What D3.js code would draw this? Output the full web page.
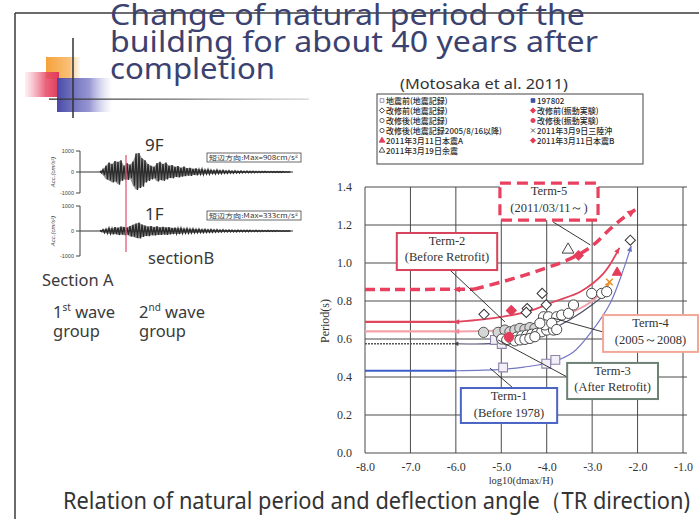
<!DOCTYPE html>
<html><head><meta charset="utf-8">
<script src="https://cdn.jsdelivr.net/npm/d3@7"></script>
<style>body{margin:0;background:#fff}svg{display:block}</style>
</head><body><svg id="c" width="699" height="519"></svg>
<script>
// ---------- chart data ----------
const xTicks = [-8, -7, -6, -5, -4, -3, -2, -1];
const yTicks = [0, 0.2, 0.4, 0.6, 0.8, 1.0, 1.2, 1.4];

// [log10(dmax/H), period (s)]
const preQuakeRec   = [[-4.96,0.45],[-4.01,0.47],[-3.81,0.49],[-5.14,0.595],[-4.99,0.574]];
const beforeRetroRec = [[-5.38,0.73],[-4.43,0.76],[-4.45,0.74],[-4.10,0.84],[-4.01,0.78],[-2.16,1.12]];
const afterRetroRec = [[-5.39,0.635],[-5.07,0.635],[-4.92,0.647],[-4.81,0.638],[-4.70,0.647],[-4.59,0.656],[-4.48,0.651],[-4.37,0.66],[-4.26,0.656]];
const afterRetroRec2005 = [[-4.99,0.60],[-4.88,0.595],[-4.77,0.60],[-4.66,0.61],[-4.55,0.616],[-4.44,0.62],[-4.33,0.625],[-4.22,0.63],[-4.11,0.638],[-4.0,0.647],[-4.70,0.59],[-4.59,0.595],[-4.48,0.598],[-4.37,0.603],[-4.26,0.612],[-4.07,0.717],[-3.96,0.717],[-3.85,0.647],[-3.78,0.717],[-3.67,0.726],[-3.52,0.735],[-3.41,0.779],[-3.01,0.84],[-2.79,0.84],[-2.68,0.849],[-4.04,0.674],[-3.89,0.683],[-4.15,0.683],[-3.78,0.65]];
const rec197802 = [];
const beforeRetroShake = [[-4.78,0.75]];
const afterRetroShake = [[-4.83,0.61]];
const sanriku0309 = [[-2.62,0.90]];
const mainShockA = [[-2.45,0.95]];
const mainShockB = [[-3.30,1.04]];
const aftershock0319 = [[-3.53,1.07]];

// fitted trends per term
const term1Flat = [[-8,0.433],[-6,0.433]];
const term1Fit = [[-6,0.433],[-5,0.44],[-4.5,0.452],[-3.86,0.48],[-3.42,0.53],[-2.98,0.65],[-2.6,0.79],[-2.32,0.96],[-2.14,1.09]];
const term2Flat = [[-8,0.69],[-6,0.69]];
const term2Fit = [[-6,0.69],[-5.4,0.703],[-4.9,0.72],[-4.4,0.745],[-3.8,0.8],[-3.25,0.85],[-2.75,0.945],[-2.4,1.08]];
const term3Flat = [[-8,0.575],[-6,0.575]];
const term3Fit = [[-6,0.575],[-5.0,0.578],[-4.5,0.60],[-4.0,0.64],[-3.5,0.70],[-3.0,0.78],[-2.6,0.86]];
const term4Flat = [[-8,0.64],[-6,0.64]];
const term4Fit = [[-6,0.64],[-5.2,0.643],[-4.9,0.648],[-4.15,0.675],[-3.4,0.745],[-3.0,0.80],[-2.6,0.90]];
const term5Flat = [[-8,0.86],[-5.6,0.862]];
const term5Fit = [[-5.6,0.862],[-5.0,0.90],[-4.5,0.935],[-4.0,0.975],[-3.5,1.02],[-3.0,1.09],[-2.6,1.18],[-2.3,1.24],[-2.05,1.28]];

// acceleration peaks (cm/s^2), positive and negative, along the record
const acc9FUp = [50,120,300,450,380,520,480,560,300,420,350,500,880,908,650,560,380,300,250,420,480,380,450,300,330,250,280,200,260,180,200,150,170,120,140,100,120,90,80,100,70,80,60,70,50,60,45,50,40,45,35,40,30,35,30,30,25,25,20,25,20,20,15,15];
const acc9FDn = [40,150,350,400,500,450,600,420,350,380,300,650,850,760,700,500,420,350,300,450,380,420,350,280,300,230,260,220,200,170,180,140,160,110,130,95,110,80,90,75,80,65,70,55,60,50,50,45,40,40,35,35,30,30,25,25,25,20,20,20,20,15,15,15];
const acc1FUp = [30,60,80,120,100,150,130,180,160,140,200,250,300,333,260,220,180,200,160,190,150,170,140,150,120,130,110,120,90,100,80,90,70,80,60,70,55,60,50,55,45,50,40,45,40,35,40,30,35,30,30,25,30,25,25,20,25,20,20,20,15,15,15,15];
const acc1FDn = [25,70,90,110,130,120,160,140,170,150,220,230,280,300,240,200,210,170,180,160,160,140,150,130,120,110,120,100,90,90,85,75,75,65,65,60,55,55,50,45,45,40,40,40,35,35,30,30,30,30,25,25,25,25,20,20,20,20,20,15,15,15,15,15];
const accTicks = [1000, 0, -1000];

const titleLines = ["Change of natural period of the", "building for about 40 years after", "completion"];

// ---------- drawing ----------
const svg = d3.select('#c');
const defs = svg.append('defs');
function grad(id, stops, x2, y2){
  const g = defs.append('linearGradient').attr('id', id).attr('x1',0).attr('y1',0).attr('x2',x2).attr('y2',y2);
  stops.forEach(s => g.append('stop').attr('offset', s[0]).attr('stop-color', s[1]).attr('stop-opacity', s[2]));
}
grad('gOr', [[0,'#f6a23a',1],[0.7,'#f8b968',0.9],[1,'#fbd8a8',0.2]], 1, 0);
grad('gRd', [[0,'#f07a90',0.1],[0.6,'#e84a68',0.85],[1,'#e03a5a',1]], 1, 0);
grad('gBl', [[0,'#4a4aa8',1],[0.6,'#6a6ac0',0.7],[1,'#b0b0e0',0.05]], 1, 0);
grad('gHr', [[0,'#333',1],[0.5,'#666',0.9],[1,'#aaa',0.5]], 1, 0);

// slide border
svg.append('line').attr('x1',15).attr('y1',13).attr('x2',699).attr('y2',13).attr('stroke','#3a3a3a').attr('stroke-width',1.5);
svg.append('line').attr('x1',15).attr('y1',13).attr('x2',15).attr('y2',519).attr('stroke','#3a3a3a').attr('stroke-width',1.5);

// title ornament
svg.append('rect').attr('x',46).attr('y',57).attr('width',34).attr('height',22).attr('fill','url(#gOr)');
svg.append('rect').attr('x',25).attr('y',72).attr('width',34).attr('height',25).attr('fill','url(#gRd)');
svg.append('rect').attr('x',57).attr('y',78).attr('width',54).attr('height',34).attr('fill','url(#gBl)');
svg.append('line').attr('x1',73).attr('y1',38).attr('x2',73).attr('y2',118).attr('stroke','#333').attr('stroke-width',1.5);
svg.append('rect').attr('x',49).attr('y',98.5).attr('width',260).attr('height',1.3).attr('fill','url(#gHr)');

// title
const tl = [[25,475],[52,488],[79,165]];
titleLines.forEach((t,i) => {
  svg.append('text').attr('x',110).attr('y',tl[i][0]).attr('font-family','Noto Sans, DejaVu Sans, sans-serif')
    .attr('font-size',28.5).attr('fill','#3b4270').attr('textLength',tl[i][1]).attr('lengthAdjust','spacingAndGlyphs').text(t);
});
svg.append('text').attr('x',400).attr('y',89).attr('font-family','Noto Sans, sans-serif').attr('font-size',15)
  .attr('fill','#333').attr('textLength',168).attr('lengthAdjust','spacingAndGlyphs').text('(Motosaka et al. 2011)');

// ---------- scatter plot ----------
const x = d3.scaleLinear().domain([-8, -1]).range([365, 683]);
const y = d3.scaleLinear().domain([0, 1.4]).range([453, 187]);
const plot = svg.append('g');

plot.selectAll('.vg').data(xTicks).join('line')
  .attr('x1', d => x(d)).attr('x2', d => x(d)).attr('y1', y(0)).attr('y2', y(1.4))
  .attr('stroke', '#4a4a4a').attr('stroke-width', 1);
plot.selectAll('.hg').data(yTicks).join('line')
  .attr('x1', x(-8)).attr('x2', x(-1) + 4).attr('y1', d => y(d)).attr('y2', d => y(d))
  .attr('stroke', '#4a4a4a').attr('stroke-width', 1);

const fmt = d => d.toFixed(1);
const yAxis = plot.append('g').attr('transform', `translate(${x(-8)},0)`)
  .call(d3.axisLeft(y).tickValues(yTicks).tickFormat(fmt).tickSize(0).tickPadding(13));
const xAxis = plot.append('g').attr('transform', `translate(0,${y(0)})`)
  .call(d3.axisBottom(x).tickValues(xTicks).tickFormat(fmt).tickSize(0).tickPadding(9));
[xAxis, yAxis].forEach(a => {
  a.select('.domain').remove();
  a.selectAll('text').attr('font-family', 'Liberation Serif, serif').attr('font-size', 12).attr('fill', '#333');
});
svg.append('text').attr('transform','translate(329,321) rotate(-90)').attr('text-anchor','middle')
  .attr('font-family','Liberation Serif, serif').attr('font-size',12).attr('fill','#333').text('Period(s)');
svg.append('text').attr('x',521).attr('y',484).attr('text-anchor','middle')
  .attr('font-family','Liberation Serif, serif').attr('font-size',10.5).attr('fill','#333').text('log10(dmax/H)');

// trend lines
const lineStraight = d3.line().x(d => x(d[0])).y(d => y(d[1]));
const lineCurve = d3.line().x(d => x(d[0])).y(d => y(d[1])).curve(d3.curveCatmullRom.alpha(0.5));
function trend(data, gen, color, w, dash){
  plot.append('path').attr('d', gen(data)).attr('fill','none').attr('stroke',color)
    .attr('stroke-width',w).attr('stroke-dasharray', dash || null);
}
function arrowHead(p, q, color, s){
  // arrow at p pointing away from q
  const ax = x(p[0]), ay = y(p[1]), bx = x(q[0]), by = y(q[1]);
  const ang = Math.atan2(ay - by, ax - bx) * 180 / Math.PI;
  plot.append('path').attr('d', `M0,0L${-s*1.6},${-s*0.75}L${-s*1.6},${s*0.75}Z`)
    .attr('transform', `translate(${ax},${ay}) rotate(${ang})`).attr('fill', color);
}
function leftArrow(pt, color, s){
  plot.append('path').attr('d', `M0,0L${s*1.6},${-s*0.75}L${s*1.6},${s*0.75}Z`)
    .attr('transform', `translate(${x(-6.05)},${y(pt[1])})`).attr('fill', color);
}

// Term-1
trend(term1Flat, lineStraight, '#3c5cc8', 2.2);
trend(term1Fit, lineCurve, '#7278c4', 1.2);
arrowHead(term1Fit[term1Fit.length-1], term1Fit[term1Fit.length-2], '#6670c0', 3.5);
// Term-3
trend(term3Flat, lineStraight, '#555', 1.6, '2,1');
trend(term3Fit, lineCurve, '#4a4a6a', 1.2);
leftArrow(term3Flat[0], '#444', 3);
arrowHead(term3Fit[term3Fit.length-1], term3Fit[term3Fit.length-2], '#3a3a7a', 3);
// Term-4
trend(term4Flat, lineStraight, '#f3a2aa', 2.2);
trend(term4Fit, lineCurve, '#f3a2aa', 2);
leftArrow(term4Flat[0], '#f08a98', 3.5);
arrowHead(term4Fit[term4Fit.length-1], term4Fit[term4Fit.length-2], '#f0a040', 3.5);
// Term-2
trend(term2Flat, lineStraight, '#e0455e', 2.2);
trend(term2Fit, lineCurve, '#e0455e', 1.8);
leftArrow(term2Flat[0], '#e0455e', 3.5);
arrowHead(term2Fit[term2Fit.length-1], term2Fit[term2Fit.length-2], '#e0455e', 3.5);
// Term-5
trend(term5Flat, lineStraight, '#e8405e', 3.5, '10,5');
trend(term5Fit, lineCurve, '#e8405e', 3.5, '10,6');
leftArrow(term5Flat[0], '#e8405e', 4);
arrowHead(term5Fit[term5Fit.length-1], term5Fit[term5Fit.length-2], '#e8405e', 5);

// markers
const shapes = {
  square: d3.symbol().type(d3.symbolSquare),
  diamond: d3.symbol().type(d3.symbolSquare),
  circle: d3.symbol().type(d3.symbolCircle),
  triangle: d3.symbol().type(d3.symbolTriangle),
  cross: d3.symbol().type(d3.symbolX)
};
function drawSym(g, kind, cx, cy, size, fill, stroke, sw){
  const rot = kind === 'diamond' ? 45 : 0;
  g.append('path').attr('d', shapes[kind].size(size)())
    .attr('transform', `translate(${cx},${cy}) rotate(${rot})`)
    .attr('fill', fill).attr('stroke', stroke).attr('stroke-width', sw);
}
const series = [
  {data: preQuakeRec, kind:'square', size:78, fill:'#f2f0f6', stroke:'#8c82aa', sw:1.1, label:'□地震前(地震記録)', col:0},
  {data: beforeRetroRec, kind:'diamond', size:52, fill:'#fff', stroke:'#333', sw:1, label:'◇改修前(地震記録)', col:0},
  {data: afterRetroRec, kind:'circle', size:82, fill:'#d6d6d6', stroke:'#555', sw:1, label:'○改修後(地震記録)', col:0},
  {data: afterRetroRec2005, kind:'circle', size:82, fill:'#fff', stroke:'#444', sw:1, label:'○改修後(地震記録2005/8/16以降)', col:0},
  {data: mainShockA, kind:'triangle', size:40, fill:'#e43c5a', stroke:'#e43c5a', sw:1, label:'▲2011年3月11日本震A', col:0},
  {data: aftershock0319, kind:'triangle', size:60, fill:'#fff', stroke:'#444', sw:1, label:'△2011年3月19日余震', col:0},
  {data: rec197802, kind:'square', size:40, fill:'#3a50a0', stroke:'#3a50a0', sw:1, label:'■197802', col:1},
  {data: beforeRetroShake, kind:'diamond', size:50, fill:'#e43c5a', stroke:'#e43c5a', sw:1, label:'◆改修前(振動実験)', col:1},
  {data: afterRetroShake, kind:'circle', size:70, fill:'#e43c5a', stroke:'#e43c5a', sw:1, label:'●改修後(振動実験)', col:1},
  {data: sanriku0309, kind:'cross', size:30, fill:'none', stroke:'#e8902a', sw:1.6, label:'×2011年3月9日三陸沖', col:1},
  {data: mainShockB, kind:'diamond', size:45, fill:'#e43c5a', stroke:'#e43c5a', sw:1, label:'■2011年3月11日本震B', col:1}
];
const marks = plot.append('g');
series.forEach(s => s.data.forEach(d => drawSym(marks, s.kind, x(d[0]), y(d[1]), s.size, s.fill, s.stroke, s.sw)));

// term call-outs (box corners and leader ends in data units)
const callouts = [
  {lines:['Term-5','(2011/03/11～)'], box:[-5.03,1.42,-2.87,1.226], lead:[[-3.86,1.216],[-3.04,1.095]], color:'#e8405e', w:3.2, dash:'11,6'},
  {lines:['Term-2','(Before Retrofit)'], box:[-7.30,1.158,-5.09,0.963], lead:[[-6.13,0.963],[-4.92,0.69]], color:'#d8425c', w:2},
  {lines:['Term-4','(2005～2008)'], box:[-2.76,0.726,-0.67,0.532], lead:[[-2.76,0.637],[-3.86,0.71]], color:'#f2a898', w:2},
  {lines:['Term-3','(After Retrofit)'], box:[-3.55,0.474,-1.55,0.284], lead:[[-3.55,0.40],[-5.07,0.595]], color:'#6c8274', w:2},
  {lines:['Term-1','(Before 1978)'], box:[-5.89,0.342,-3.77,0.158], lead:[[-4.74,0.342],[-5.25,0.447]], color:'#4a64c4', w:2}
];
const co = svg.append('g');
callouts.forEach(c => {
  co.append('line').attr('x1', x(c.lead[0][0])).attr('y1', y(c.lead[0][1])).attr('x2', x(c.lead[1][0])).attr('y2', y(c.lead[1][1]))
    .attr('stroke', '#222').attr('stroke-width', 0.9);
  const bx = x(c.box[0]), by = y(c.box[1]), bw = x(c.box[2]) - bx, bh = y(c.box[3]) - by;
  co.append('rect').attr('x', bx).attr('y', by).attr('width', bw).attr('height', bh)
    .attr('fill', '#fff').attr('stroke', c.color).attr('stroke-width', c.w).attr('stroke-dasharray', c.dash || null);
  c.lines.forEach((t, i) => co.append('text').attr('x', bx + bw / 2).attr('y', by + 12 + i * 16.5)
    .attr('text-anchor', 'middle').attr('font-family', 'Liberation Serif, serif').attr('font-size', 12.5).attr('fill', '#333').text(t));
});

// legend
const lg = svg.append('g');
lg.append('rect').attr('x',377).attr('y',94).attr('width',266).attr('height',70).attr('fill','#fff').attr('stroke','#444').attr('stroke-width',1);
const rowsPerCol = [0, 0];
series.forEach(s => {
  const r = rowsPerCol[s.col]++;
  const lx = s.col === 0 ? 382 : 533, ly = 100.5 + r * 10;
  drawSym(lg, s.kind, lx, ly, s.kind === 'cross' ? 12 : 14, s.fill === '#fff' || s.fill === '#f2f0f6' || s.fill === '#d6d6d6' ? '#fff' : s.fill,
    s.kind === 'cross' ? '#444' : s.stroke, 0.9);
  lg.append('text').attr('x', lx + 4).attr('y', ly + 3).attr('font-family', 'Noto Sans CJK JP, sans-serif')
    .attr('font-size', 8).attr('font-weight', 500).attr('fill', '#2a2a2a').text(s.label.slice(1));
});

// ---------- acceleration records ----------
const wave = svg.append('g');
function record(up, dn, yTop, yBot, label, labelY, maxText, boxY){
  const ys = d3.scaleLinear().domain([-1000, 1000]).range([yBot, yTop]);
  const n = Math.min(up.length, dn.length);
  const t = d3.scaleLinear().domain([0, n - 1]).range([100, 289]);
  const half = (t(1) - t(0)) / 2;
  wave.append('line').attr('x1', 80).attr('x2', 293).attr('y1', ys(0)).attr('y2', ys(0)).attr('stroke', '#333').attr('stroke-width', 1);
  const area = d3.area().x((d, i) => t(i)).y0((d, i) => ys(-dn[i])).y1((d, i) => ys(up[i])).curve(d3.curveLinear);
  wave.append('path').attr('d', area(up.slice(0, n))).attr('fill', '#3a3a3a').attr('opacity', 0.55);
  const pts = [];
  for (let i = 0; i < n; i++) { pts.push([t(i), ys(up[i])]); pts.push([t(i) + half, ys(-dn[i])]); }
  wave.append('path').attr('d', d3.line()(pts)).attr('fill', 'none').attr('stroke', '#2a2a2a').attr('stroke-width', 1.3);
  // bracket axis
  wave.append('path').attr('d', `M76,${ys(1000)}H80V${ys(-1000)}H76M76,${ys(0)}H80`).attr('fill', 'none').attr('stroke', '#444').attr('stroke-width', 1);
  accTicks.forEach(v => wave.append('text').attr('x', 74).attr('y', ys(v) + 2).attr('text-anchor', 'end')
    .attr('font-family', 'Liberation Sans, sans-serif').attr('font-size', 5.5).attr('fill', '#444').text(v));
  wave.append('text').attr('transform', `translate(55,${ys(0)}) rotate(-90)`).attr('text-anchor', 'middle')
    .attr('font-family', 'Liberation Sans, sans-serif').attr('font-style', 'italic').attr('font-size', 6).attr('fill', '#444')
    .text('Acc.(cm/s²)');
  wave.append('text').attr('x', 145).attr('y', labelY).attr('font-family', 'Noto Sans, sans-serif').attr('font-size', 17).attr('fill', '#333').text(label);
  wave.append('rect').attr('x', 207).attr('y', boxY).attr('width', 94).attr('height', 9).attr('fill', '#fff').attr('stroke', '#444').attr('stroke-width', 0.8);
  wave.append('text').attr('x', 209).attr('y', boxY + 6.7).attr('font-family', 'Noto Sans CJK JP, sans-serif').attr('font-size', 6).attr('fill', '#333')
    .attr('textLength', 89).attr('lengthAdjust', 'spacingAndGlyphs').text(maxText);
}
record(acc9FUp, acc9FDn, 151, 193, '9F', 151, '短辺方向:Max=908cm/s²', 153);
record(acc1FUp, acc1FDn, 206, 256, '1F', 220, '短辺方向:Max=333cm/s²', 211);
wave.append('line').attr('x1', 126).attr('x2', 126).attr('y1', 155).attr('y2', 252).attr('stroke', '#e45a78').attr('stroke-width', 1.3);

const sideFont = 'Noto Sans, DejaVu Sans, sans-serif';
function sideText(tx, ty, s, size){ return svg.append('text').attr('x', tx).attr('y', ty).attr('font-family', sideFont).attr('font-size', size || 16.5).attr('fill', '#3a3a3a').text(s); }
sideText(148, 264, 'sectionB');
sideText(42, 286, 'Section A');
const w1 = sideText(53, 318, '1'); w1.append('tspan').attr('font-size', 10).attr('dy', -7).text('st'); w1.append('tspan').attr('dy', 7).text(' wave');
sideText(53, 337, 'group');
const w2 = sideText(139, 318, '2'); w2.append('tspan').attr('font-size', 10).attr('dy', -7).text('nd'); w2.append('tspan').attr('dy', 7).text(' wave');
sideText(139, 337, 'group');

// caption
svg.append('text').attr('x', 63).attr('y', 509).attr('font-family', sideFont).attr('font-size', 24).attr('fill', '#333')
  .attr('textLength', 627).attr('lengthAdjust', 'spacingAndGlyphs').text('Relation of natural period and deflection angle（TR direction)');
</script></body></html>
